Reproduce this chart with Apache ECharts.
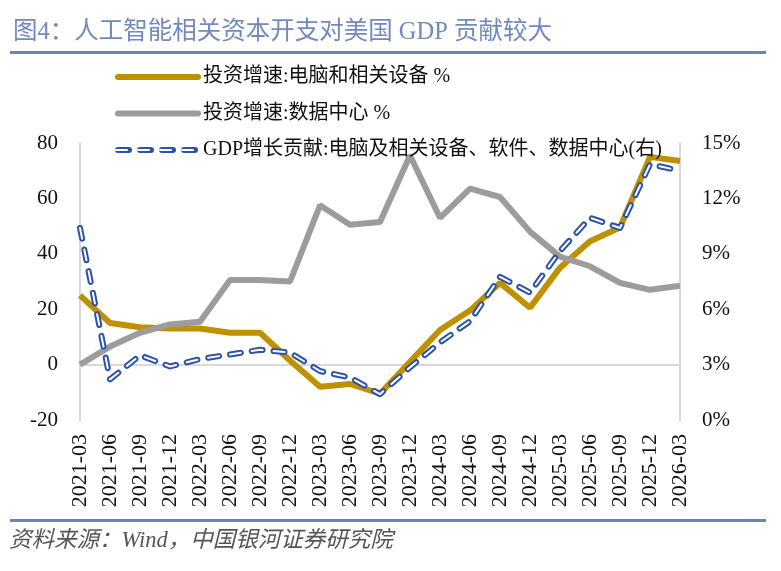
<!DOCTYPE html>
<html lang="zh">
<head>
  <meta charset="UTF-8">
  <title>图4</title>
  <style>
    html, body { margin: 0; padding: 0; background: #fff; }
    #chart { width: 781px; height: 571px; }
  </style>
</head>
<body>
  <div id="chart"></div>
  <script src="https://cdn.jsdelivr.net/npm/echarts@6/dist/echarts.min.js"></script>
  <script>
    // 季度
    const categories = ['2021-03', '2021-06', '2021-09', '2021-12', '2022-03', '2022-06', '2022-09',
      '2022-12', '2023-03', '2023-06', '2023-09', '2023-12', '2024-03', '2024-06', '2024-09',
      '2024-12', '2025-03', '2025-06', '2025-09', '2025-12', '2026-03'];
    // 投资增速:电脑和相关设备 %
    const pcEquip = [25, 15, 13.5, 13, 13, 11.5, 11.5, 1.5, -8, -7, -10.5, 1, 12.5, 19.5, 29.5,
      20.5, 35, 44.5, 49.5, 75, 73.5];
    // 投资增速:数据中心 %
    const dataCenter = [0, 6.5, 11.5, 14.5, 15.5, 30.5, 30.5, 30, 57.5, 50.5, 51.5, 75.5, 53, 63.5,
      60.5, 48, 39, 35.5, 29.5, 27, 28.5];
    // GDP增长贡献(右轴, %)
    const gdpContrib = [10.4, 2.2, 3.5, 2.9, 3.3, 3.55, 3.8, 3.65, 2.65, 2.3, 1.4, 2.85, 4.2, 5.35,
      7.75, 6.9, 9.15, 10.95, 10.4, 13.85, 13.5];
    const leftTicks = { min: -20, max: 80, step: 20 };
    const rightTicks = { min: 0, max: 15, step: 3 };

    const NAME_PC = '投资增速:电脑和相关设备 %';
    const NAME_DC = '投资增速:数据中心 %';
    const NAME_GDP = 'GDP增长贡献:电脑及相关设备、软件、数据中心(右)';
    const NAME_GDP_IN = NAME_GDP + ' ';

    const FONT = "'Liberation Serif', 'Noto Sans CJK SC', serif";
    const BLUE = '#2c53a5';
    const DASH = [11, 11];

    let chart = echarts.init(document.getElementById('chart'), null, { renderer: 'canvas' });

    let option = {
      backgroundColor: '#fff',
      animation: false,
      title: {
        text: '图4：人工智能相关资本开支对美国 GDP 贡献较大',
        left: 8,
        top: 15,
        textStyle: { fontFamily: FONT, fontSize: 24.5, fontWeight: 'normal', color: '#7389bd' }
      },
      graphic: [
        { type: 'rect', shape: { x: 10, y: 51, width: 756, height: 3 }, style: { fill: '#6c83b5' } },
        { type: 'rect', shape: { x: 10, y: 519, width: 756, height: 3 }, style: { fill: '#6c83b5' } },
        {
          type: 'text', left: 9, top: 530,
          style: {
            text: '资料来源：Wind，中国银河证券研究院',
            font: "italic 22.5px 'Liberation Serif', 'Noto Sans CJK SC', serif",
            fill: '#555'
          }
        }
      ],
      legend: [{
        orient: 'vertical',
        left: 110,
        top: 62,
        itemWidth: 80,
        itemHeight: 14,
        itemGap: 16.5,
        selectedMode: false,
        itemStyle: { opacity: 0 },
        textStyle: { fontFamily: FONT, fontSize: 20, lineHeight: 20, color: '#111' },
        data: [
          { name: NAME_PC, lineStyle: { width: 6, cap: 'round' } },
          { name: NAME_DC, lineStyle: { width: 6, cap: 'round' } },
          { name: NAME_GDP, lineStyle: { width: 6, type: DASH, cap: 'round' } }
        ]
      }, {
        orient: 'vertical',
        left: 110,
        top: 62 + 2 * 36.5,
        itemWidth: 80,
        itemHeight: 14,
        selectedMode: false,
        itemStyle: { opacity: 0 },
        textStyle: { fontFamily: FONT, fontSize: 20, lineHeight: 20, color: 'rgba(0,0,0,0)' },
        data: [{ name: NAME_GDP_IN, lineStyle: { width: 2, type: DASH, cap: 'round' } }]
      }],
      grid: { left: 80, right: 101, top: 143, bottom: 151, containLabel: false },
      xAxis: {
        type: 'category',
        boundaryGap: false,
        data: categories,
        axisLine: { show: false },
        axisTick: { show: false },
        axisLabel: {
          interval: 0, rotate: 90, margin: 14,
          fontFamily: FONT, fontSize: 22, color: '#111'
        }
      },
      yAxis: [{
        type: 'value',
        min: leftTicks.min, max: leftTicks.max, interval: leftTicks.step,
        axisLine: { show: true, lineStyle: { color: '#d9d9d9', width: 2 } },
        axisTick: { show: false },
        splitLine: { show: false },
        axisLabel: { margin: 22, fontFamily: FONT, fontSize: 21, color: '#111' }
      }, {
        type: 'value',
        min: rightTicks.min, max: rightTicks.max, interval: rightTicks.step,
        axisLine: { show: true, lineStyle: { color: '#d9d9d9', width: 2 } },
        axisTick: { show: false },
        splitLine: { show: false },
        axisLabel: { margin: 22, formatter: '{value}%', fontFamily: FONT, fontSize: 21, color: '#111' }
      }],
      series: [{
        name: NAME_PC,
        type: 'line',
        data: pcEquip,
        symbol: 'none',
        lineStyle: { color: '#bf9000', width: 6 },
        itemStyle: { color: '#bf9000' },
        markLine: {
          silent: true,
          symbol: 'none',
          label: { show: false },
          lineStyle: { color: '#d9d9d9', width: 2, type: 'solid' },
          data: [{ yAxis: 0 }],
          z: 1
        },
        z: 3
      }, {
        name: NAME_DC,
        type: 'line',
        data: dataCenter,
        symbol: 'none',
        lineStyle: { color: '#9c9c9c', width: 6 },
        itemStyle: { color: '#9c9c9c' },
        z: 3
      }, {
        name: NAME_GDP,
        type: 'line',
        yAxisIndex: 1,
        data: gdpContrib,
        symbol: 'none',
        lineStyle: { color: BLUE, width: 6, type: DASH, cap: 'round', join: 'round' },
        itemStyle: { color: BLUE },
        z: 4
      }, {
        name: NAME_GDP_IN,
        type: 'line',
        yAxisIndex: 1,
        data: gdpContrib,
        symbol: 'none',
        lineStyle: { color: '#fff', width: 2, type: DASH, cap: 'round', join: 'round' },
        itemStyle: { color: '#fff' },
        z: 5
      }]
    };

    chart.setOption(option);
  </script>
</body>
</html>
